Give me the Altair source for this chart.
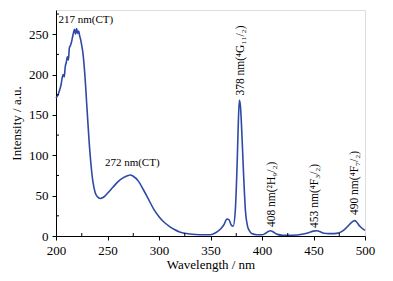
import altair as alt
import pandas as pd

wavelength = [200, 202, 204, 205, 206, 207, 208, 209, 210, 211, 212, 213, 214, 215, 216, 217, 218, 219, 220, 221, 222, 223, 224, 225, 226, 228, 230, 232, 234, 236, 238, 240, 243, 246, 250, 255, 260, 265, 270, 272, 275, 280, 285, 290, 295, 300, 305, 310, 315, 320, 330, 340, 350, 355, 360, 363, 366, 368, 370, 372, 374, 376, 377, 378, 379, 380, 382, 384, 386, 388, 390, 395, 400, 403, 406, 408, 411, 415, 420, 430, 440, 445, 450, 453, 457, 460, 465, 470, 475, 480, 484, 487, 490, 492, 495, 500]
intensity = [171, 175, 183, 188, 196, 200, 197, 210, 215, 222, 218, 233, 236, 240, 246, 252, 256, 250, 257, 251, 254, 248, 243, 236, 228, 200, 160, 120, 88, 66, 54, 49, 46.5, 48, 53, 60, 67, 72, 75, 75.5, 74, 68, 57, 45, 33, 24, 17, 12, 8, 5, 2.5, 1.5, 1.5, 4, 9, 14, 21, 20, 14, 12, 30, 95, 140, 168, 162, 140, 80, 30, 12, 6, 3, 1.5, 1.5, 3, 5.5, 6.5, 5, 2, 1, 1, 2.5, 4, 6, 6.5, 5, 3.5, 3, 3, 4, 8, 13, 17, 19, 17, 12, 7]

labels_h = ["217 nm(CT)", "272 nm(CT)"]
labels_h_x = [229, 274]
labels_h_y = [268, 91]

labels_v = ["378 nm(⁴G₁₁/₂)", "408 nm(²H₉/₂)", "453 nm(⁴F₃/₂)", "490 nm(⁴F₇/₂)"]
labels_v_x = [380, 409.5, 451.5, 490]
labels_v_y = [174, 11, 10, 26]

minor_x = [225, 275, 325, 375, 425, 475]
minor_y = [25, 75, 125, 175, 225, 275]

curve = pd.DataFrame({"w": wavelength, "i": intensity})
hdf = pd.DataFrame({"t": labels_h, "x": labels_h_x, "y": labels_h_y})
vdf = pd.DataFrame({"t": labels_v, "x": labels_v_x, "y": labels_v_y})
mxdf = pd.DataFrame({"x": minor_x})
mydf = pd.DataFrame({"y": minor_y})

W, H = 309, 226
FONT = "Liberation Serif"

xs = alt.Scale(domain=[200, 500], nice=False)
ys = alt.Scale(domain=[0, 280], nice=False)

line = alt.Chart(curve).mark_line(color="#2e4aa6", strokeWidth=1.6, interpolate="monotone").encode(
    x=alt.X("w:Q", scale=xs, title="Wavelength / nm",
            axis=alt.Axis(values=[200, 250, 300, 350, 400, 450, 500], grid=False, domainColor="black",
                          tickColor="black", tickSize=4, labelFontSize=13, titleFontSize=13,
                          labelColor="black", titleColor="black", labelFont=FONT, titleFont=FONT,
                          titleFontWeight="normal", labelPadding=4, titlePadding=1,
                          labelFlush=False, labelOverlap=False)),
    y=alt.Y("i:Q", scale=ys, title="Intensity / a.u.",
            axis=alt.Axis(values=[0, 50, 100, 150, 200, 250], grid=False, domainColor="black",
                          tickColor="black", tickSize=4, labelFontSize=13, titleFontSize=13,
                          labelColor="black", titleColor="black", labelFont=FONT, titleFont=FONT,
                          titleFontWeight="normal", labelPadding=4, titlePadding=5,
                          labelOverlap=False)),
)

mx = alt.Chart(mxdf).mark_rule(color="black", strokeWidth=1).encode(
    x=alt.X("x:Q", scale=xs), y=alt.value(H), y2=alt.value(H - 3))
my = alt.Chart(mydf).mark_rule(color="black", strokeWidth=1).encode(
    y=alt.Y("y:Q", scale=ys), x=alt.value(0), x2=alt.value(3))

htext = alt.Chart(hdf).mark_text(font=FONT, fontSize=11, color="black").encode(
    x=alt.X("x:Q", scale=xs), y=alt.Y("y:Q", scale=ys), text="t:N")
vtext = alt.Chart(vdf).mark_text(font=FONT, fontSize=11.5, color="black", angle=270,
                                 align="left", baseline="middle").encode(
    x=alt.X("x:Q", scale=xs), y=alt.Y("y:Q", scale=ys), text="t:N")

chart = alt.layer(line, mx, my, htext, vtext).properties(
    width=W, height=H,
    autosize=alt.AutoSizeParams(type="none"),
    padding={"left": 48, "top": 2, "right": 20, "bottom": 37},
).configure_view(stroke=None).configure(background="white")

chart.save("out.html", embed_options={"renderer": "svg", "actions": False})
